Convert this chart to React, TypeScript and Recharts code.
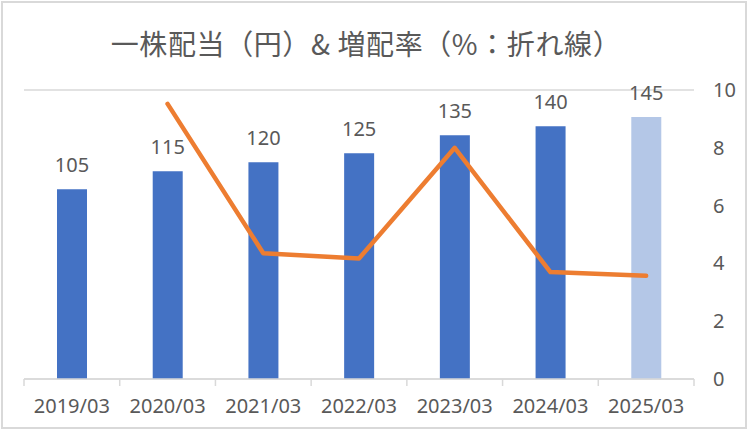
import React from "react";
import { ComposedChart, Bar, Line, XAxis, YAxis, CartesianGrid, Cell, LabelList } from "recharts";

const categories = ["2019/03", "2020/03", "2021/03", "2022/03", "2023/03", "2024/03", "2025/03"];
const dividends = [105, 115, 120, 125, 135, 140, 145];
const growthRates: (number | null)[] = [null, 9.52, 4.35, 4.17, 8.0, 3.7, 3.57];
const barColors = ["#4472C4", "#4472C4", "#4472C4", "#4472C4", "#4472C4", "#4472C4", "#B4C7E7"];
const leftTicks = [0, 20, 40, 60, 80, 100, 120, 140, 160];
const rightTicks = [0, 2, 4, 6, 8, 10];

const data = categories.map((c, i) => ({ name: c, dividend: dividends[i], rate: growthRates[i] }));

const TEXT = "#595959";
const GRID = "#D9D9D9";
const FONT = "'Noto Sans', sans-serif";

const XTick = (props: any) => {
  const { x, y, payload, index, visibleTicksCount } = props;
  const half = payload && payload.offset ? payload.offset : 47.86;
  const last = index === (visibleTicksCount ?? categories.length) - 1;
  return (
    <g>
      <line x1={x - half} x2={x - half} y1={y} y2={y + 7} stroke={GRID} strokeWidth={1.5} />
      {last && <line x1={x + half} x2={x + half} y1={y} y2={y + 7} stroke={GRID} strokeWidth={1.5} />}
      <text x={x} y={y + 27} dy="0.35em" textAnchor="middle" fill={TEXT} fontSize={20} fontFamily={FONT}>
        {payload.value}
      </text>
    </g>
  );
};

const YRightTick = (props: any) => {
  const { x, y, payload } = props;
  return (
    <text x={x} y={y} dy="0.35em" textAnchor="start" fill={TEXT} fontSize={20} fontFamily={FONT}>
      {payload.value}
    </text>
  );
};

export default function App() {
  return (
    <div
      style={{
        position: "fixed",
        left: 0,
        top: 0,
        width: 750,
        height: 431,
        background: "#fff",
      }}
    >
      <div
        style={{
          position: "absolute",
          left: 1,
          top: 1,
          width: 746,
          height: 428,
          border: `2px solid ${GRID}`,
          boxSizing: "border-box",
        }}
      />
      <div
        style={{
          position: "absolute",
          left: 0,
          top: 29,
          width: 732,
          textAlign: "center",
          fontFamily: "'Noto Sans CJK JP', sans-serif",
          fontSize: 28,
          lineHeight: "28px",
          letterSpacing: "0.6px",
          color: TEXT,
          whiteSpace: "nowrap",
        }}
      >
        一株配当（円）&amp; 増配率（%：折れ線）
      </div>
      <div style={{ position: "absolute", left: 0, top: 0 }}>
        <ComposedChart
          width={750}
          height={431}
          data={data}
          margin={{ top: 90, right: 0, bottom: 12, left: 24 }}
        >
          <CartesianGrid yAxisId="left" horizontal vertical={false} stroke={GRID} strokeWidth={1.5} />
          <XAxis
            dataKey="name"
            tick={<XTick />}
            tickLine={false}
            tickSize={0}
            tickMargin={0}
            height={40}
            axisLine={{ stroke: GRID, strokeWidth: 1.5 }}
            interval={0}
          />
          <YAxis
            yAxisId="left"
            domain={[0, 160]}
            ticks={leftTicks}
            tick={false}
            axisLine={false}
            tickLine={false}
            width={0}
          />
          <YAxis
            yAxisId="right"
            orientation="right"
            domain={[0, 10]}
            ticks={rightTicks}
            tick={<YRightTick />}
            axisLine={false}
            tickLine={false}
            tickSize={0}
            tickMargin={19}
            width={56}
          />
          <Bar yAxisId="left" dataKey="dividend" barSize={30} isAnimationActive={false}>
            {data.map((d, i) => (
              <Cell key={d.name} fill={barColors[i]} />
            ))}
            <LabelList dataKey="dividend" position="top" offset={17} fill={TEXT} fontSize={20} fontFamily={FONT} />
          </Bar>
          <Line
            yAxisId="right"
            dataKey="rate"
            stroke="#ED7D31"
            strokeWidth={4.5}
            strokeLinejoin="round"
            strokeLinecap="round"
            dot={false}
            activeDot={false}
            isAnimationActive={false}
            type="linear"
          />
        </ComposedChart>
      </div>
    </div>
  );
}
